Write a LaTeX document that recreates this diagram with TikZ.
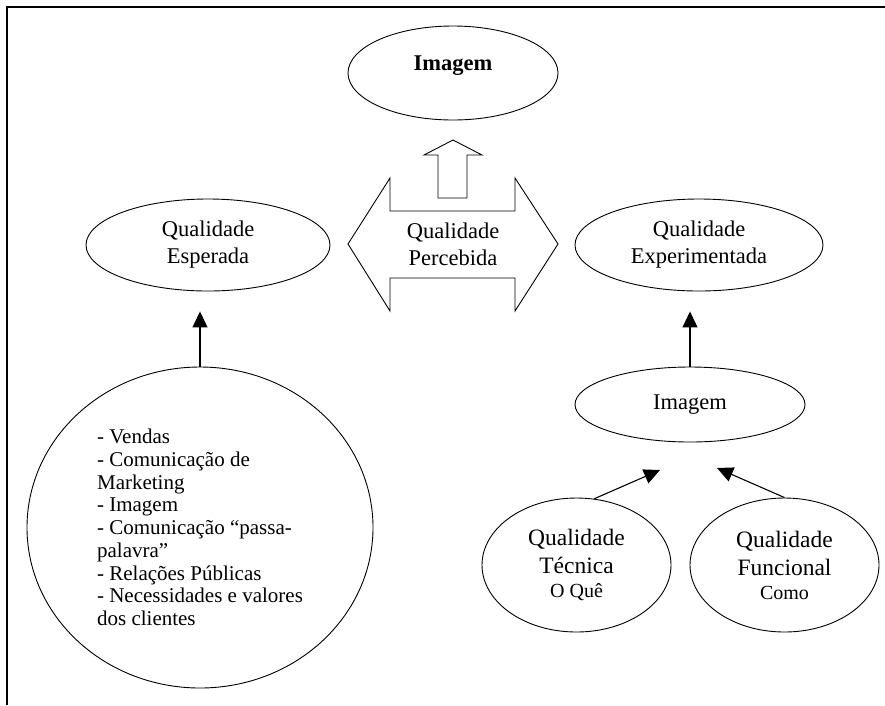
\documentclass[tikz,border=0pt]{standalone}
\usepackage{fontspec}
\setmainfont{Liberation Serif}
\usetikzlibrary{shapes.geometric,arrows.meta}

\begin{document}
\begin{tikzpicture}[
  x=1pt, y=-1pt,
  bubble/.style={ellipse, draw, line width=0.9pt, inner sep=0pt, align=center, font=\fontsize{22.5}{27}\selectfont},
  bigbubble/.style={bubble, font=\fontsize{23.5}{28}\selectfont},
  block/.style={draw, line width=0.9pt},
  arrow/.style={-{Triangle[length=16pt,width=15pt]}, line width=1.1pt}
]
\useasboundingbox (0,0) rectangle (885,705);

% Frame
\draw[line width=1.5pt] (7,705) -- (7,7) -- (885,7);

% Top
\node[bubble, minimum width=210pt, minimum height=94pt] (topimg) at (453,73) {\raisebox{7pt}[\height][\depth]{\textbf{Imagem}}};

% Block arrows
\draw[block] (438,198) -- (438,155) -- (424,155) -- (453,140) -- (482,155) -- (467,155) -- (467,198) -- cycle;
\draw[block] (348,244) -- (390,178) -- (390,211) -- (515,211) -- (515,178) -- (558,244)
  -- (515,311) -- (515,278) -- (390,278) -- (390,311) -- cycle;
\node[align=center, font=\fontsize{22.5}{27}\selectfont] (perc) at (453,244) {Qualidade\\Percebida};

% Middle row
\node[bubble, minimum width=244pt, minimum height=92pt] (esp) at (208,245) {Qualidade\\Esperada};
\node[bubble, minimum width=248pt, minimum height=92pt] (exp) at (699,245) {Qualidade\\Experimentada};

% Left - sources
\node[bubble, minimum width=346pt, minimum height=321pt, align=left, font=\fontsize{21}{22.7}\selectfont] (list) at (200,527.5)
  {- Vendas\\- Comunicação de\\Marketing\\- Imagem\\- Comunicação “passa-\\palavra”\\- Relações Públicas\\- Necessidades e valores\\dos clientes};

% Right - image
\node[bubble, minimum width=230pt, minimum height=75pt] (img) at (690,404.5) {Imagem};
\node[bigbubble, minimum width=189pt, minimum height=134pt] (tec) at (576.5,565) {Qualidade\\Técnica\\[-4pt]{\fontsize{20}{24}\selectfont O Quê}};
\node[bigbubble, minimum width=189pt, minimum height=134pt] (fun) at (784.5,565) {Qualidade\\Funcional\\[-4pt]{\fontsize{20}{24}\selectfont Como}};

\coordinate (tl) at (660,470);
\coordinate (tr) at (717,468);

% Arrows
\draw[arrow, shorten >=20pt] (list.north) -- (list.north |- esp.south);
\draw[arrow, shorten >=20pt] (img.north) -- (img.north |- exp.south);
\draw[arrow] (tec.75) -- (tl);
\draw[arrow] (fun.north) -- (tr);

\end{tikzpicture}
\end{document}
